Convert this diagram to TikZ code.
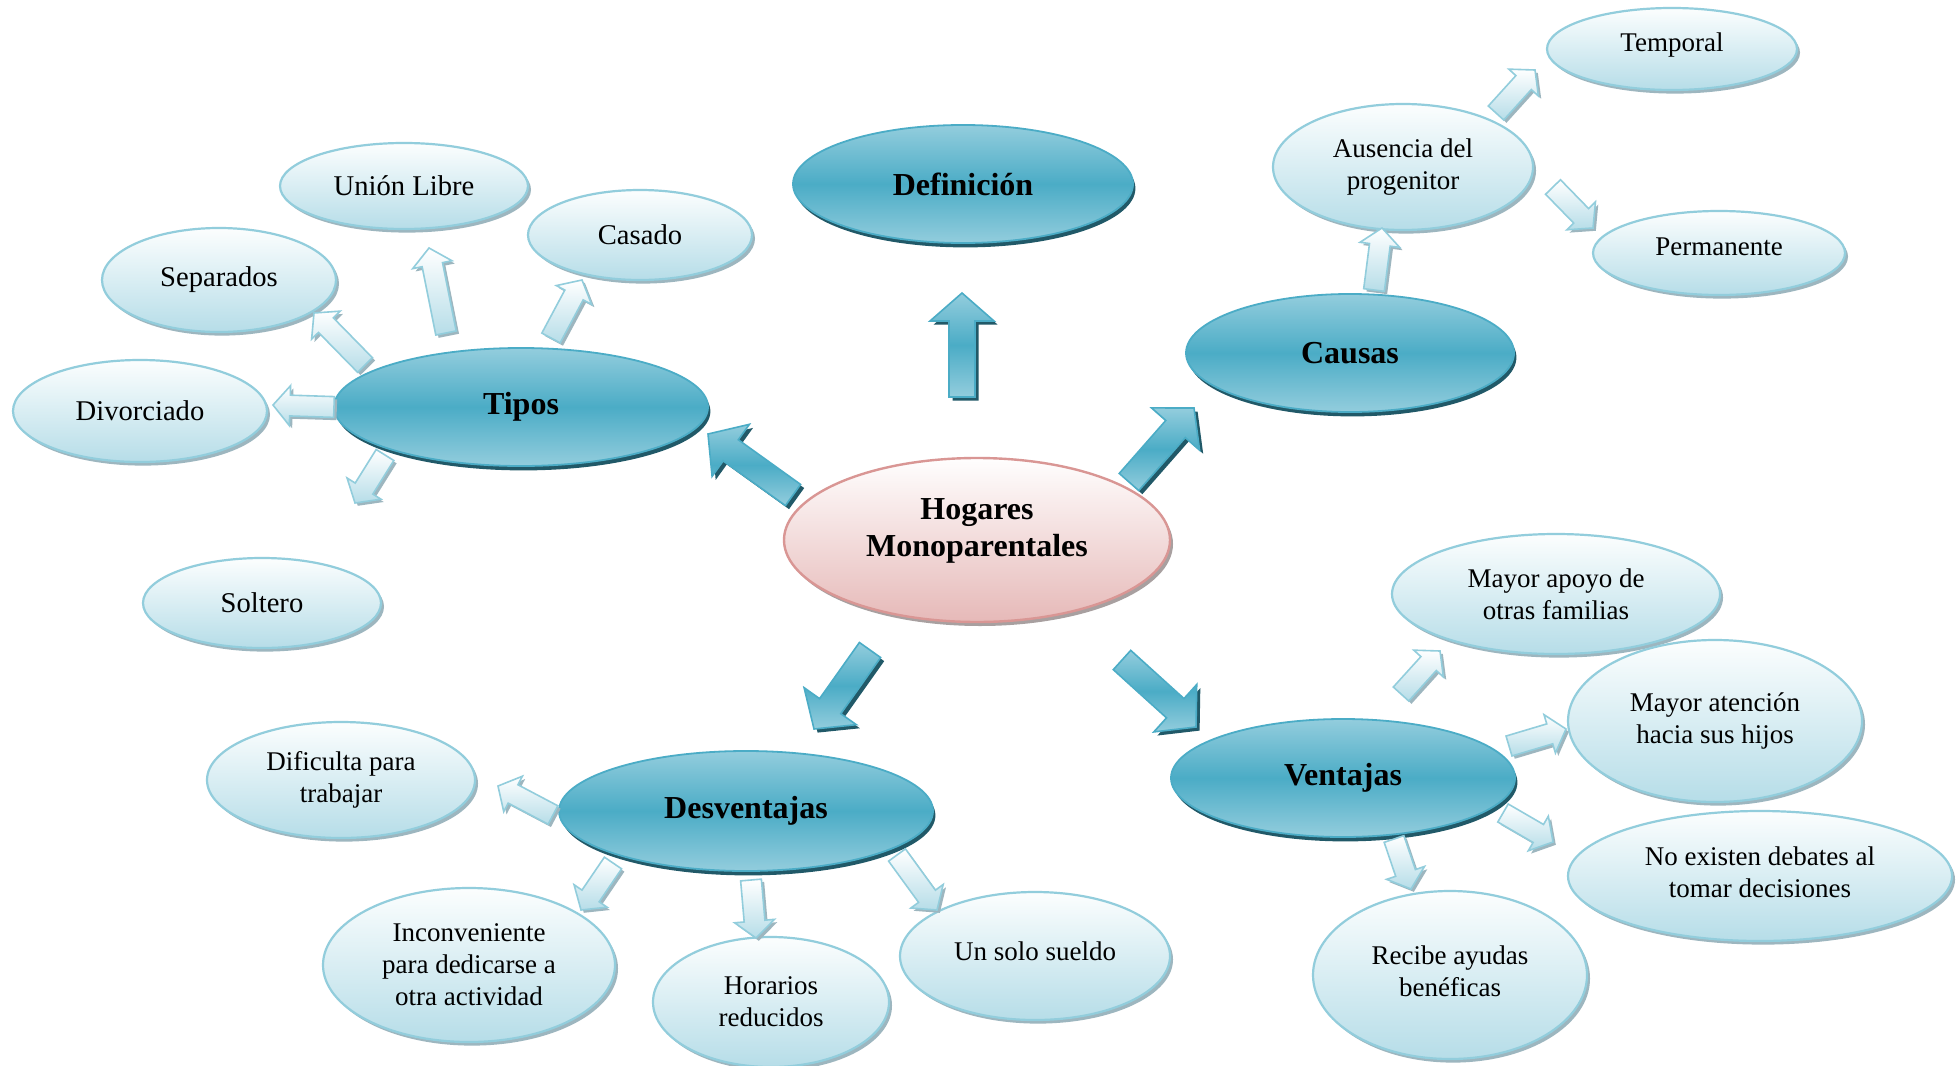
\documentclass[tikz,border=0pt]{standalone}
\usepackage{fontspec}
\setmainfont{Liberation Serif}
\usetikzlibrary{shapes.geometric,shadows,calc}
\definecolor{dkA}{HTML}{4BACC6}
\definecolor{dkL}{HTML}{93CDDD}
\definecolor{dkS}{HTML}{215968}
\definecolor{ltT}{HTML}{FCFEFE}
\definecolor{ltB}{HTML}{B6DDE8}
\definecolor{ltE}{HTML}{92CDDC}
\definecolor{ltS}{HTML}{9DB6BF}
\definecolor{rdT}{HTML}{FFFEFE}
\definecolor{rdB}{HTML}{E6B9B8}
\definecolor{rdE}{HTML}{D99694}
\definecolor{rdS}{HTML}{A8A0A0}
\newcommand\blockarr[6]{%
  \coordinate (hc) at ($(#3)!#6!(#2)$);
  \path[#1] ($(#2)!#4!90:(#3)$) -- ($(hc)!#4!-90:(#2)$) -- ($(hc)!#5!-90:(#2)$) -- (#3)
    -- ($(hc)!#5!90:(#2)$) -- ($(hc)!#4!90:(#2)$) -- ($(#2)!#4!-90:(#3)$) -- cycle;}
\newcommand\darr[2]{\blockarr{darrS}{#1}{#2}{6.5pt}{16pt}{14pt}\blockarr{darrF}{#1}{#2}{6.5pt}{16pt}{14pt}}
\newcommand\larr[2]{\blockarr{larrS}{#1}{#2}{5.2pt}{10pt}{8.5pt}\blockarr{larrF}{#1}{#2}{5.2pt}{10pt}{8.5pt}}
\newcommand\lift[2]{\raisebox{0pt}[\height][\dimexpr\depth+#1\relax]{\begin{tabular}{@{}c@{}}#2\end{tabular}}}
\begin{document}
\begin{tikzpicture}[x=0.5pt,y=-0.5pt,
  main/.style={ellipse, draw=dkA, line width=0.9pt, top color=dkL, bottom color=dkL, middle color=dkA,
    inner sep=0pt, align=center, font=\fontsize{16}{18.5}\selectfont\bfseries,
    drop shadow={shadow xshift=1.2pt, shadow yshift=-2.2pt, fill=dkS, opacity=1}},
  hub/.style={ellipse, draw=rdE, line width=1.2pt, top color=rdT, bottom color=rdB,
    inner sep=0pt, align=center, font=\fontsize{16}{18.5}\selectfont\bfseries,
    drop shadow={shadow xshift=1.5pt, shadow yshift=-2pt, fill=rdS, opacity=1}},
  sub/.style={ellipse, draw=ltE, line width=1.1pt, top color=ltT, bottom color=ltB,
    inner sep=0pt, align=center, font=\fontsize{13.5}{16}\selectfont,
    drop shadow={shadow xshift=1.5pt, shadow yshift=-1.8pt, fill=ltS, opacity=1}},
  subb/.style={sub, font=\fontsize{14.3}{16.5}\selectfont},
  darrS/.style={fill=dkS, transform canvas={shift={(1.8pt,-1.8pt)}}},
  darrF/.style={draw=dkA, line width=0.8pt, top color=dkL, bottom color=dkL, middle color=dkA},
  larrS/.style={fill=ltS, transform canvas={shift={(1.4pt,-1.4pt)}}},
  larrF/.style={draw=ltE, line width=0.8pt, top color=white, bottom color=ltB}
]
\useasboundingbox (0,0) rectangle (1957,1065);
\fill[white] (0,0) rectangle (1957,1065);

% main nodes
\node[hub, minimum width=193pt, minimum height=82pt] (hog) at (977,540) {\lift{9pt}{Hogares\\Monoparentales}};
\node[main, minimum width=170pt, minimum height=59pt] (def) at (963,184) {Definición};
\node[main, minimum width=187pt, minimum height=59pt] (tip) at (521,407) {Tipos};
\node[main, minimum width=164pt, minimum height=59pt] (cau) at (1350,353) {Causas};
\node[main, minimum width=172pt, minimum height=59pt] (ven) at (1343,778) {Ventajas};
\node[main, minimum width=187pt, minimum height=60pt] (des) at (746,811) {Desventajas};

% sub nodes
\node[subb, minimum width=124pt, minimum height=43pt] (uni) at (404,186) {Unión Libre};
\node[subb, minimum width=112pt, minimum height=45pt] (cas) at (640,235) {Casado};
\node[subb, minimum width=117pt, minimum height=52pt] (sep) at (219,280) {Separados};
\node[subb, minimum width=127pt, minimum height=51pt] (div) at (140,411) {Divorciado};
\node[subb, minimum width=119pt, minimum height=45pt] (sol) at (262,603) {Soltero};
\node[sub, minimum width=125pt, minimum height=41pt] (tem) at (1672,49) {\lift{4pt}{Temporal}};
\node[sub, minimum width=126pt, minimum height=42pt] (per) at (1719,253) {\lift{4pt}{Permanente}};
\node[sub, minimum width=130pt, minimum height=63pt] (aus) at (1403,167) {Ausencia del\\progenitor};
\node[sub, minimum width=164pt, minimum height=60pt] (apo) at (1556,594) {Mayor apoyo de\\otras familias};
\node[sub, minimum width=147pt, minimum height=81pt] (ate) at (1715,721) {Mayor atención\\hacia sus hijos};
\node[sub, minimum width=192pt, minimum height=65pt] (deb) at (1760,876) {\lift{1pt}{No existen debates al\\tomar decisiones}};
\node[sub, minimum width=137pt, minimum height=84pt] (rec) at (1450,975) {\lift{1.2pt}{Recibe ayudas\\benéficas}};
\node[sub, minimum width=135pt, minimum height=64pt] (sue) at (1035,956) {\lift{2pt}{Un solo sueldo}};
\node[sub, minimum width=118pt, minimum height=65pt] (hor) at (771,1002) {Horarios\\reducidos};
\node[sub, minimum width=146pt, minimum height=77pt] (inc) at (469,965) {Inconveniente\\para dedicarse a\\otra actividad};
\node[sub, minimum width=134pt, minimum height=58pt] (dif) at (341,780) {Dificulta para\\trabajar};

% arrow end points
\coordinate (hd0) at (962,397);  \coordinate (hd1) at (962,293);
\coordinate (hc0) at (1129,482); \coordinate (hc1) at (1194,408);
\coordinate (ht0) at (793,495);  \coordinate (ht1) at (708,434);
\coordinate (hs0) at (870,650);  \coordinate (hs1) at (814,729);
\coordinate (hv0) at (1122,660); \coordinate (hv1) at (1196,727);

\coordinate (t10) at (365,365);  \coordinate (t11) at (314,313);
\coordinate (t20) at (446,333);  \coordinate (t21) at (429,248);
\coordinate (t30) at (551,338);  \coordinate (t31) at (582,280);
\coordinate (t40) at (334,407);  \coordinate (t41) at (273,405);
\coordinate (t50) at (385,455);  \coordinate (t51) at (355,503);
\coordinate (c10) at (1374,290); \coordinate (c11) at (1382,228);
\coordinate (c20) at (1496,113); \coordinate (c21) at (1535,70);
\coordinate (c30) at (1553,187); \coordinate (c31) at (1593,228);
\coordinate (v10) at (1401,694); \coordinate (v11) at (1440,651);
\coordinate (v20) at (1509,746); \coordinate (v21) at (1566,729);
\coordinate (v30) at (1503,813); \coordinate (v31) at (1553,842);
\coordinate (v40) at (1394,839); \coordinate (v41) at (1411,889);
\coordinate (d10) at (553,815);  \coordinate (d11) at (498,786);
\coordinate (d20) at (613,863);  \coordinate (d21) at (581,910);
\coordinate (d30) at (751,880);  \coordinate (d31) at (756,938);
\coordinate (d40) at (897,855);  \coordinate (d41) at (937,910);

\darr{hd0}{hd1}
\darr{hc0}{hc1}
\darr{ht0}{ht1}
\darr{hs0}{hs1}
\darr{hv0}{hv1}

\larr{t10}{t11}
\larr{t20}{t21}
\larr{t30}{t31}
\larr{t40}{t41}
\larr{t50}{t51}
\larr{c10}{c11}
\larr{c20}{c21}
\larr{c30}{c31}
\larr{v10}{v11}
\larr{v20}{v21}
\larr{v30}{v31}
\larr{v40}{v41}
\larr{d10}{d11}
\larr{d20}{d21}
\larr{d30}{d31}
\larr{d40}{d41}
\end{tikzpicture}
\end{document}
